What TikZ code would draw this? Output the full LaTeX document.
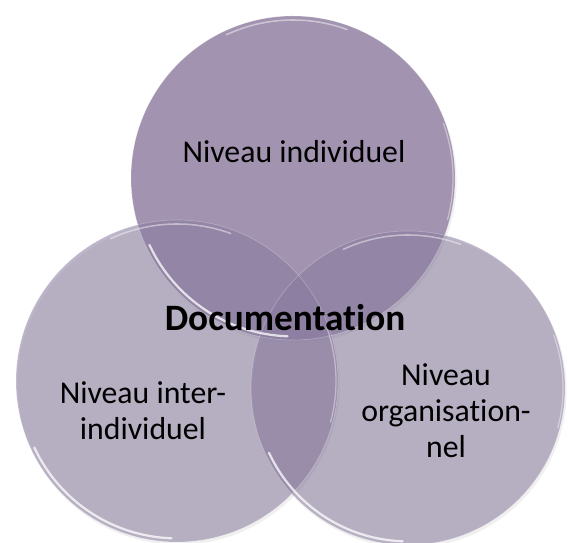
\documentclass[tikz,border=0pt]{standalone}
\usepackage{fontspec}
\setmainfont{Carlito}[Ligatures=NoCommon]

\definecolor{topfill}{HTML}{A294B0}
\definecolor{lowfill}{HTML}{897B9E}

\tikzset{
  lbl/.style={font=\fontsize{22.6}{25.6}\selectfont, align=center, text=black},
  rim/.style={white, line width=0.5pt, opacity=0.25},
  gloss/.style={white, line width=1.6pt, opacity=0.75, line cap=round}
}

\begin{document}
\begin{tikzpicture}
\useasboundingbox (0,0) rectangle (14.2,13.575);

\coordinate (T) at (7.325,9.125);
\coordinate (L) at (4.425,4.05);
\coordinate (R) at (10.2,3.875);

% soft shadows
\foreach \c/\r in {T/4.05,L/4.025,R/3.925}
  \fill[black, opacity=0.06] ([shift={(0.04,-0.07)}]\c) circle(\r);

\begin{scope}
  \fill[topfill] (T) circle(4.05);
  \fill[lowfill, fill opacity=0.57] (L) circle(4.025);
  \fill[lowfill, fill opacity=0.57] (R) circle(3.925);
\end{scope}

% rims and highlights
\foreach \c/\r in {T/4.05,L/4.025,R/3.925} {
  \draw[rim] (\c) circle(\r);
  \draw[gloss, shift={(\c)}] (205:{\r-0.09}) arc(205:268:{\r-0.09});
  \draw[gloss, opacity=0.45, line width=1.1pt, shift={(\c)}] (70:{\r-0.1}) arc(70:115:{\r-0.1});
  \draw[gloss, opacity=0.4, line width=0.9pt, shift={(\c)}] (-15:{\r-0.05}) arc(-15:20:{\r-0.05});
}

\node[lbl] (indiv) at (7.35,9.775) {Niveau individuel};
\node[lbl, font=\fontsize{26.5}{30}\selectfont\bfseries] (doc) at (7.125,5.63) {Documentation};
\node[lbl] (inter) at (3.575,3.3) {Niveau inter-\\individuel};
\node[lbl] (orga) at (11.15,3.3) {Niveau\\organisation-\\nel};
\end{tikzpicture}
\end{document}
